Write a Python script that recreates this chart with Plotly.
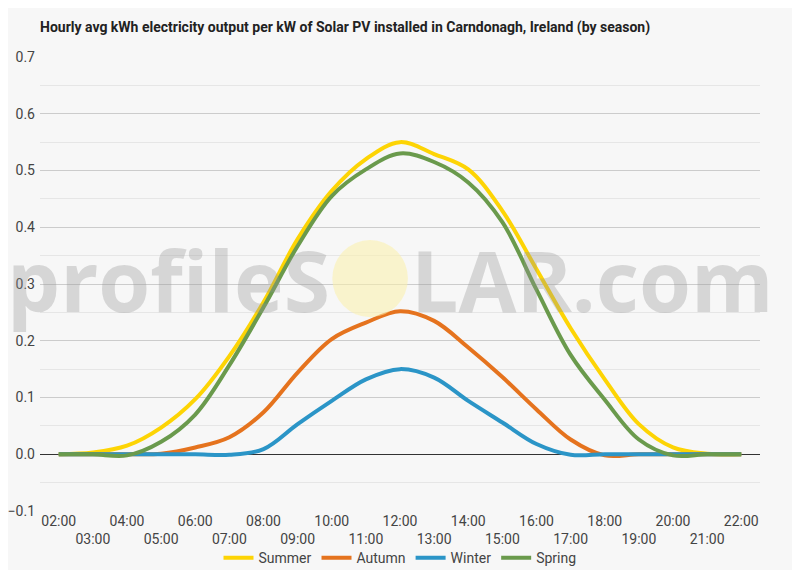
"""
Hourly solar PV output per kW by season (Carndonagh, Ireland).
"""
import plotly.graph_objects as go

hours = ["02:00", "03:00", "04:00", "05:00", "06:00", "07:00", "08:00",
         "09:00", "10:00", "11:00", "12:00", "13:00", "14:00", "15:00",
         "16:00", "17:00", "18:00", "19:00", "20:00", "21:00", "22:00"]

summer = [0.0, 0.003, 0.015, 0.047, 0.097, 0.173, 0.268, 0.379, 0.464, 0.52, 0.55,
          0.529, 0.502, 0.429, 0.326, 0.222, 0.132, 0.053, 0.012, 0.001, 0.0]
autumn = [0.0, 0.0, 0.0, 0.001, 0.012, 0.03, 0.074, 0.144, 0.203, 0.232, 0.252,
          0.235, 0.188, 0.136, 0.079, 0.026, -0.002, 0.0, 0.0, 0.0, 0.0]
winter = [0.0, 0.0, 0.0, 0.0, 0.0, -0.001, 0.009, 0.053, 0.094, 0.132, 0.15,
          0.135, 0.094, 0.056, 0.018, -0.001, 0.0, 0.0, 0.0, 0.0, 0.0]
spring = [0.0, 0.0, -0.002, 0.022, 0.07, 0.157, 0.259, 0.367, 0.455, 0.502, 0.53,
          0.515, 0.479, 0.409, 0.29, 0.175, 0.096, 0.026, -0.002, 0.0, 0.0]

series = [("Summer", summer, "#FDD404"),
          ("Autumn", autumn, "#E5731E"),
          ("Winter", winter, "#2B95C7"),
          ("Spring", spring, "#6A9A4C")]

# alternate tick labels onto two rows
tick_text = [h if i % 2 == 0 else "<br>" + h for i, h in enumerate(hours)]

fig = go.Figure()
for name, values, colour in series:
    fig.add_trace(go.Scatter(
        x=hours, y=values, name=name, mode="lines",
        line=dict(color=colour, width=4, shape="spline", smoothing=1.0)
    ))

fig.update_layout(
    width=800, height=570,
    paper_bgcolor="#F7F7F7", plot_bgcolor="#F7F7F7",
    margin=dict(l=32, r=48, t=49, b=67, autoexpand=False),
    font=dict(family="Roboto", size=14, color="#444444"),
    title=dict(
        text="<b>Hourly avg kWh electricity output per kW of Solar PV installed in Carndonagh, Ireland (by season)</b>",
        x=0.04, xanchor="left", xref="container",
        y=0.967, yanchor="middle", yref="container",
        font=dict(family="Roboto", size=14, color="#222222")
    ),
    showlegend=True,
    legend=dict(orientation="h", x=0.5, xanchor="center",
                y=0.035, yanchor="middle", yref="container",
                font=dict(size=14, color="#444444"), bgcolor="rgba(0,0,0,0)",
                itemwidth=30, tracegroupgap=0),
    xaxis=dict(
        type="category", tickmode="array", tickvals=hours, ticktext=tick_text,
        showgrid=False, showline=False, ticks="", tickangle=0, automargin=False,
        range=[-0.55, 20.55], tickfont=dict(size=14, color="#444444")
    ),
    yaxis=dict(
        range=[-0.1, 0.7], dtick=0.1, tickformat=".1f", automargin=False,
        gridcolor="#CCCCCC", gridwidth=1,
        minor=dict(dtick=0.05, showgrid=True, gridcolor="#E6E6E6", gridwidth=1),
        zeroline=True, zerolinecolor="#333333", zerolinewidth=1,
        showline=False, ticks="", ticklabelstandoff=4,
        tickfont=dict(size=14, color="#444444")
    ),
)

# profileSOLAR.com watermark
wm_font = dict(family="Open Sans", size=84, color="rgba(150,150,150,0.33)")
fig.add_annotation(text="<b>profileS</b>", xref="paper", yref="paper",
                   x=0.405, y=0.51, xanchor="right", yanchor="middle",
                   showarrow=False, font=wm_font)
fig.add_annotation(text="<b>LAR.com</b>", xref="paper", yref="paper",
                   x=0.512, y=0.51, xanchor="left", yanchor="middle",
                   showarrow=False, font=wm_font)
fig.add_shape(type="circle", xref="paper", yref="paper",
              x0=0.406, x1=0.511, y0=0.427, y1=0.597,
              fillcolor="rgba(252,240,170,0.55)", line=dict(width=0), layer="above")

fig.write_html("out.html")
